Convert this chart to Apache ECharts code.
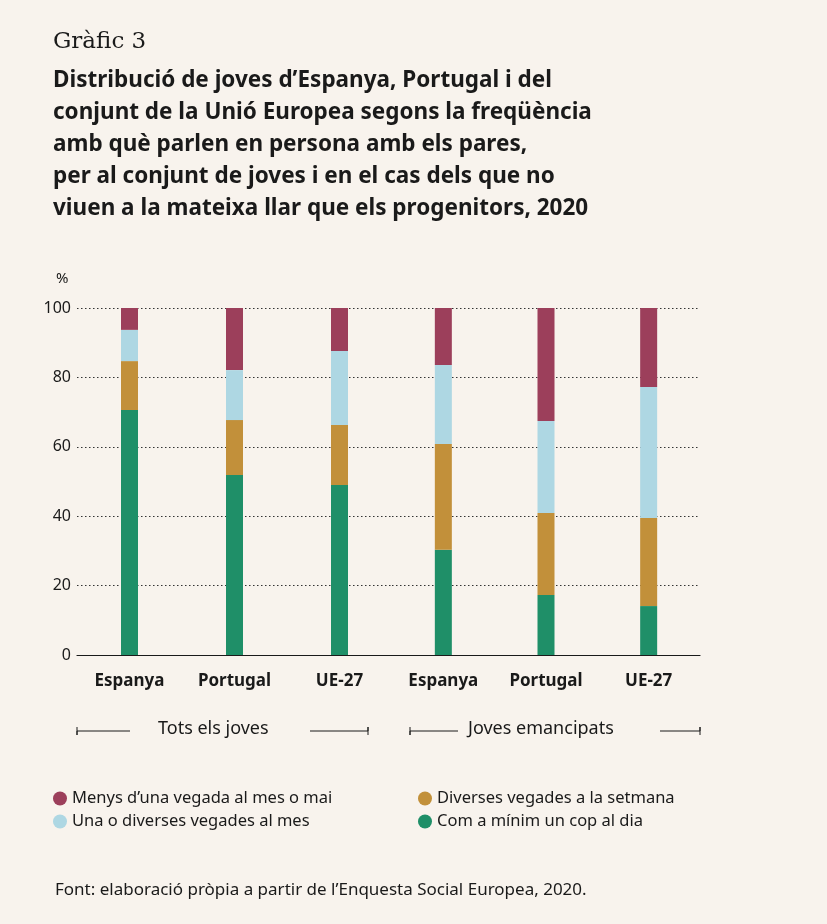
<!DOCTYPE html>
<html><head><meta charset="utf-8">
<script src="https://cdn.jsdelivr.net/npm/echarts@6/dist/echarts.min.js"></script>
<style>html,body{margin:0;background:#f8f3ed}#c{width:827px;height:924px}</style>
</head><body><div id="c"></div>
<script>
var categories1 = ['Espanya', 'Portugal', 'UE-27'];
var categories2 = ['Espanya', 'Portugal', 'UE-27'];
var groups = ['Tots els joves', 'Joves emancipats'];
var seriesNames = ['Menys d\u2019una vegada al mes o mai', 'Una o diverses vegades al mes', 'Diverses vegades a la setmana', 'Com a mínim un cop al dia'];
// [Tots els joves..., Joves emancipats...]
var daily = [70.6, 51.9, 49.0, 30.3, 17.3, 14.1];
var weekly = [14.1, 15.8, 17.3, 30.5, 23.6, 25.4];
var monthly = [9.0, 14.4, 21.3, 22.8, 26.5, 37.7];
var rarely = [6.3, 17.9, 12.4, 16.4, 32.6, 22.8];

var colors = {rarely: '#9c3f5b', monthly: '#aed7e3', weekly: '#c2903a', daily: '#1f8f68'};
var chart = echarts.init(document.getElementById('c'));

var series = [];
[[seriesNames[3], daily, colors.daily], [seriesNames[2], weekly, colors.weekly],
 [seriesNames[1], monthly, colors.monthly], [seriesNames[0], rarely, colors.rarely]].forEach(function (s) {
  for (var g = 0; g < 2; g++) {
    series.push({name: s[0], type: 'bar', stack: 'g' + g, barWidth: 17, xAxisIndex: g, yAxisIndex: g,
      data: s[1].slice(g * 3, g * 3 + 3), itemStyle: {color: s[2]}});
  }
});
function xAx(cats, g) {
  return {type: 'category', gridIndex: g, data: cats,
    axisLine: {lineStyle: {color: '#1a1a1a', width: 1.2}}, axisTick: {show: false},
    axisLabel: {fontSize: 17, fontWeight: 'bold', color: '#1a1a1a', margin: 18}};
}
function yAx(g) {
  return {type: 'value', gridIndex: g, min: 0, max: 100, interval: 20,
    axisLine: {show: false}, axisTick: {show: false},
    axisLabel: {show: g === 0, fontSize: 16, color: '#1a1a1a', margin: 6},
    splitLine: {lineStyle: {type: [1.5, 2.5], color: '#333', width: 1}}};
}
var line = {stroke: '#1a1a1a', lineWidth: 1, fill: null};
chart.setOption({
  backgroundColor: '#f8f3ed',
  animation: false,
  textStyle: {fontFamily: 'Noto Sans'},
  title: [
    {text: 'Gràfic 3', left: 48, top: 26, textStyle: {fontFamily: 'DejaVu Serif', fontSize: 23, fontWeight: 'normal', color: '#1a1a1a'}},
    {text: 'Distribució de joves d\u2019Espanya, Portugal i del\nconjunt de la Unió Europea segons la freqüència\namb què parlen en persona amb els pares,\nper al conjunt de joves i en el cas dels que no\nviuen a la mateixa llar que els progenitors, 2020',
     left: 48, top: 60, textStyle: {fontFamily: 'Noto Sans', fontSize: 22.5, fontWeight: 'bold', lineHeight: 32, color: '#1a1a1a'}},
    {text: 'Font: elaboració pròpia a partir de l\u2019Enquesta Social Europea, 2020.', left: 50, top: 877, textStyle: {fontSize: 17, fontWeight: 'normal', color: '#1a1a1a', fontFamily: 'Noto Sans'}}
  ],
  grid: [
    {left: 77, width: 315, top: 308, bottom: 924 - 655},
    {left: 392, right: 127, top: 308, bottom: 924 - 655}
  ],
  xAxis: [xAx(categories1, 0), xAx(categories2, 1)],
  yAxis: [yAx(0), yAx(1)],
  legend: [
    {data: [seriesNames[0], seriesNames[1]], orient: 'vertical', left: 48, top: 785, icon: 'circle', itemWidth: 14, itemHeight: 14, itemGap: 6,
     textStyle: {fontSize: 16.5, color: '#1a1a1a'}},
    {data: [seriesNames[2], seriesNames[3]], orient: 'vertical', left: 413, top: 785, icon: 'circle', itemWidth: 14, itemHeight: 14, itemGap: 6,
     textStyle: {fontSize: 16.5, color: '#1a1a1a'}}
  ],
  graphic: [
    {type: 'text', left: 56, top: 271, style: {text: '%', fontSize: 15, fill: '#1a1a1a', fontFamily: 'Noto Sans'}},
    {type: 'text', left: 158, top: 720, style: {text: groups[0], fontSize: 18, fill: '#1a1a1a', fontFamily: 'Noto Sans'}},
    {type: 'text', left: 468, top: 720, style: {text: groups[1], fontSize: 18, fill: '#1a1a1a', fontFamily: 'Noto Sans'}},
    {type: 'polyline', shape: {points: [[77, 727], [77, 735], [77, 731], [130, 731]]}, style: line},
    {type: 'polyline', shape: {points: [[310, 731], [368, 731], [368, 727], [368, 735]]}, style: line},
    {type: 'polyline', shape: {points: [[410, 727], [410, 735], [410, 731], [458, 731]]}, style: line},
    {type: 'polyline', shape: {points: [[660, 731], [700, 731], [700, 727], [700, 735]]}, style: line}
  ],
  series: series
});
</script></body></html>
